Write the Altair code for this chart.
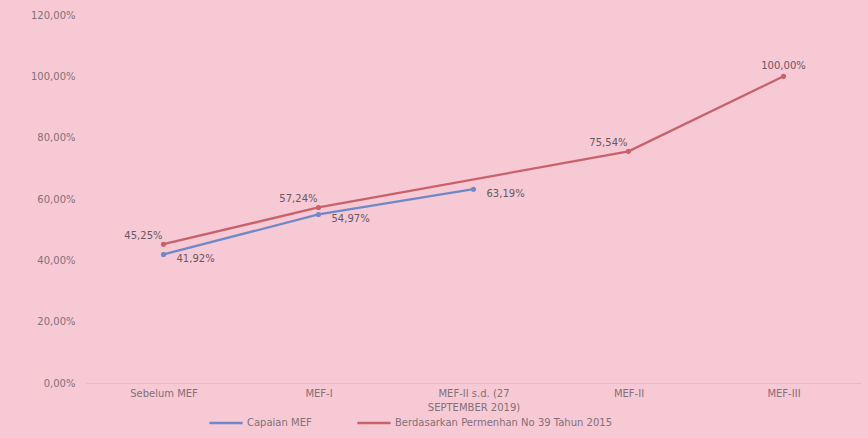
import altair as alt
import pandas as pd

# Categories along the x axis ("|" marks a line break in the tick label)
categories = [
    "Sebelum MEF",
    "MEF-I",
    "MEF-II s.d. (27|SEPTEMBER 2019)",
    "MEF-II",
    "MEF-III",
]

series_names = ["Capaian MEF", "Berdasarkan Permenhan No 39 Tahun 2015"]

# Achieved MEF (%), only up to September 2019
capaian = [41.92, 54.97, 63.19, None, None]
# Target according to Permenhan No 39 Tahun 2015 (%)
permenhan = [45.25, 57.24, None, 75.54, 100.00]

rows = []
for cat, a, b in zip(categories, capaian, permenhan):
    rows.append({"kategori": cat, "seri": series_names[0], "nilai": a})
    rows.append({"kategori": cat, "seri": series_names[1], "nilai": b})
df = pd.DataFrame(rows)
df["frac"] = df["nilai"] / 100.0
df["label"] = df["nilai"].map(
    lambda v: "" if pd.isna(v) else f"{v:.2f}".replace(".", ",") + "%"
)

text_color = "#857078"
font = "DejaVu Sans"

x_enc = alt.X(
    "kategori:N",
    sort=categories,
    scale=alt.Scale(domain=categories, paddingInner=0, paddingOuter=0),
    axis=alt.Axis(
        title=None,
        labelAngle=0,
        labelExpr="split(datum.label, '|')",
        labelColor=text_color,
        labelFont=font,
        labelFontSize=10,
        labelPadding=5,
        labelLineHeight=14,
        ticks=False,
        domain=True,
        domainColor="#e9bac6",
        grid=False,
    ),
)

y_enc = alt.Y(
    "frac:Q",
    scale=alt.Scale(domain=[0, 1.2], nice=False),
    axis=alt.Axis(
        title=None,
        values=[0, 0.2, 0.4, 0.6, 0.8, 1.0, 1.2],
        labelExpr="replace(format(datum.value * 100, '.2f'), '.', ',') + '%'",
        labelColor=text_color,
        labelFont=font,
        labelFontSize=10,
        labelPadding=11,
        ticks=False,
        domain=False,
        grid=False,
    ),
)

color_enc = alt.Color(
    "seri:N",
    scale=alt.Scale(domain=series_names, range=["#7088c6", "#c9616b"]),
    legend=alt.Legend(
        title=None,
        orient="none",
        legendX=122,
        legendY=390,
        direction="horizontal",
        symbolType="stroke",
        symbolStrokeWidth=2.5,
        symbolSize=1100,
        labelColor=text_color,
        labelFont=font,
        labelFontSize=10,
        labelLimit=500,
        labelOffset=3,
        columnPadding=40,
        padding=0,
    ),
)

base = alt.Chart(df).encode(x=x_enc, y=y_enc, color=color_enc)

lines = base.mark_line(strokeWidth=2.3).transform_filter("isValid(datum.nilai)")
points = base.mark_point(filled=True, size=26, opacity=1).transform_filter(
    "isValid(datum.nilai)"
)

label_style = dict(font=font, fontSize=10, color="#6a5860")

blue_labels = (
    alt.Chart(df)
    .transform_filter(f"datum.seri == '{series_names[0]}' && isValid(datum.nilai)")
    .mark_text(align="left", baseline="middle", dx=13, dy=5, **label_style)
    .encode(x=x_enc, y=y_enc, text="label:N")
)

red_labels = (
    alt.Chart(df)
    .transform_filter(
        f"datum.seri == '{series_names[1]}' && isValid(datum.nilai) && datum.nilai < 100"
    )
    .mark_text(align="right", baseline="middle", dx=-1, dy=-8, **label_style)
    .encode(x=x_enc, y=y_enc, text="label:N")
)

top_label = (
    alt.Chart(df)
    .transform_filter(f"datum.seri == '{series_names[1]}' && datum.nilai >= 100")
    .mark_text(align="center", baseline="middle", dy=-10, **label_style)
    .encode(x=x_enc, y=y_enc, text="label:N")
)

chart = (
    alt.layer(lines, points, blue_labels, red_labels, top_label)
    .properties(
        width=775,
        height=368,
        background="#f6c9d5",
        autosize=alt.AutoSizeParams(type="none"),
        padding={"left": 86, "top": 15, "right": 7, "bottom": 55},
    )
    .configure_view(stroke=None)
)

chart.save("out.html", embed_options={"renderer": "svg", "actions": False})
